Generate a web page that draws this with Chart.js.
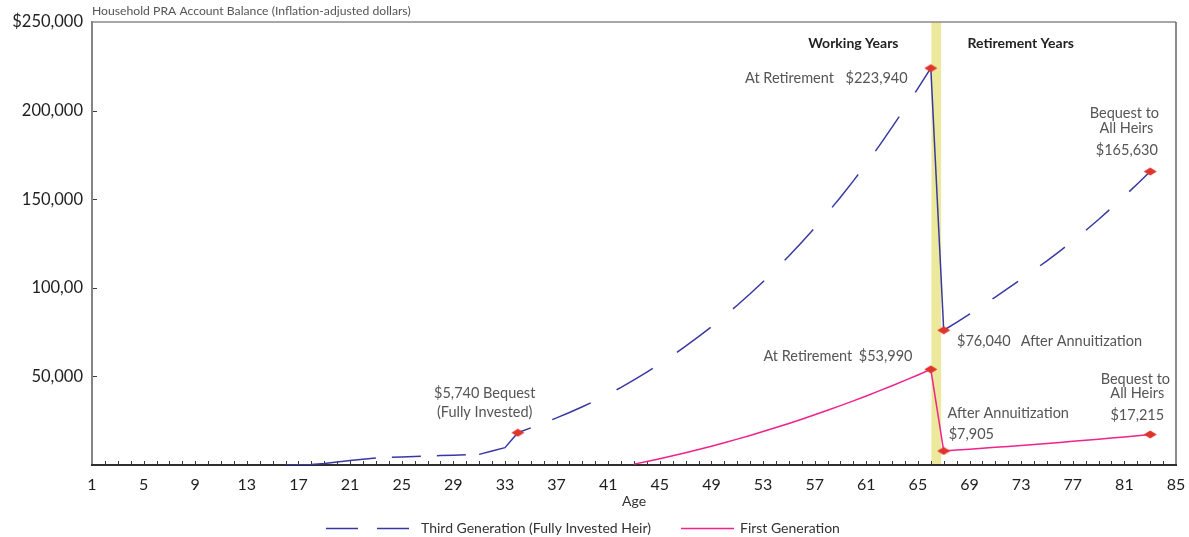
<!DOCTYPE html>
<html>
<head>
<meta charset="utf-8">
<title>Household PRA Account Balance</title>
<script src="https://cdn.jsdelivr.net/npm/chart.js@4.4.1/dist/chart.umd.min.js"></script>
<style>
  html, body { margin: 0; padding: 0; background: #ffffff; }
  #wrap { width: 1189px; height: 537px; }
</style>
</head>
<body>
<div id="wrap"><canvas id="chart" width="1189" height="537"></canvas></div>
<script>
// ---- data ----
const thirdGenAges = [16,17,18,19,20,21,22,23,24,25,26,27,28,29,30,31,32,33,34,
  35,36,37,38,39,40,41,42,43,44,45,46,47,48,49,50,51,52,53,54,55,56,57,58,59,60,61,62,63,64,65,66,
  67,68,69,70,71,72,73,74,75,76,77,78,79,80,81,82,83];
const thirdGenValues = [0,150,350,900,1700,2500,3200,3900,4300,4550,4800,5050,5300,5550,5800,6000,7900,9800,18200,
  20950,23750,26580,29640,32850,36260,39920,43830,48040,52450,57060,61920,67030,72390,78000,83910,90120,96630,
  103440,110550,117960,125720,133830,142290,151150,160360,170020,180080,190700,201500,212500,223940,
  76040,80550,85200,89950,94800,99750,104800,109950,115250,120750,126450,132350,138550,145050,151700,158550,165630];
const thirdGenMarkerAges = [34, 66, 67, 83];

const firstGenAges = [43,44,45,46,47,48,49,50,51,52,53,54,55,56,57,58,59,60,61,62,63,64,65,66,
  67,68,69,70,71,72,73,74,75,76,77,78,79,80,81,82,83];
const firstGenValues = [500,2000,3575,5225,6950,8750,10625,12575,14600,16700,18875,21125,23450,25850,28325,30875,
  33500,36200,38975,41825,44750,47750,50825,53990,
  7905,8400,8900,9400,9950,10500,11050,11600,12150,12750,13350,13950,14550,15200,15850,16500,17215];
const firstGenMarkerAges = [66, 67, 83];

const xTickValues = [1,5,9,13,17,21,25,29,33,37,41,45,49,53,57,61,65,69,73,77,81,85];
const yTickValues = [0, 50000, 100000, 150000, 200000, 250000];
const yTickLabels = ['', '50,000', '100,00', '150,000', '200,000', '$250,000'];

const retirementBand = [66.05, 66.8];   // ages bounding the retirement divider

// ---- labels placed at chart coordinates (age, balance) ----
const notes = [
  { text: 'Working Years',      age: 60.0,  value: 238100, bold: true },
  { text: 'Retirement Years',   age: 72.97, value: 238100, bold: true },
  { text: 'At Retirement',      age: 55.05, value: 218400 },
  { text: '$223,940',           age: 61.8,  value: 218400 },
  { text: 'Bequest to',         age: 81.0,  value: 198600 },
  { text: 'All Heirs',          age: 81.16, value: 190200 },
  { text: '$165,630',           age: 81.19, value: 177800 },
  { text: '$76,040',            age: 70.11, value: 70000 },
  { text: 'After Annuitization',age: 77.67, value: 70000 },
  { text: 'At Retirement',      age: 56.47, value: 61500 },
  { text: '$53,990',            age: 62.5,  value: 61500 },
  { text: '$5,740 Bequest',     age: 31.43, value: 40630 },
  { text: '(Fully Invested)',   age: 31.43, value: 29900 },
  { text: 'After Annuitization',age: 72.0,  value: 29350 },
  { text: '$7,905',             age: 69.14, value: 17500 },
  { text: 'Bequest to',         age: 81.85, value: 48530 },
  { text: 'All Heirs',          age: 82.0,  value: 40630 },
  { text: '$17,215',            age: 82.0,  value: 28200 }
];

const FONT = 'Lato, "Open Sans", "DejaVu Sans", sans-serif';
const BLUE = '#3838a2';
const PINK = '#f0228c';

// dash patterns for the heir's line: early savings, working years, retirement
const DASH_EARLY = [29, 16];
const DASH_WORK = [42, 29];
const DASH_RETIRED = [31, 27];

// flattened red diamond used for the milestone markers
function makeDiamond() {
  const c = document.createElement('canvas');
  c.width = 14; c.height = 9;
  const g = c.getContext('2d');
  g.fillStyle = '#e0352c';
  g.beginPath();
  g.moveTo(7, 0.5); g.lineTo(13.5, 4.5); g.lineTo(7, 8.5); g.lineTo(0.5, 4.5);
  g.closePath(); g.fill();
  return c;
}
const diamond = makeDiamond();

function toPoints(ages, values) {
  return ages.map((a, i) => ({ x: a, y: values[i] }));
}

// stretches of the heir's line that are drawn unbroken
function solidStretch(ctx) {
  const a = ctx.p0.parsed.x;
  return a < 23 || (a >= 31 && a < 35) || a === 66;
}
function segmentDash(ctx) {
  if (solidStretch(ctx)) return [];
  const a = ctx.p0.parsed.x;
  if (a < 31) return DASH_EARLY;
  if (a < 66) return DASH_WORK;
  return DASH_RETIRED;
}
function segmentDashOffset(ctx) {
  const a = ctx.p0.parsed.x;
  if (a < 31) return DASH_EARLY[0];
  if (a < 66) return DASH_WORK[0] + 6;
  return 0;
}

// background band and the plot frame with its small inner ticks
const framePlugin = {
  id: 'frame',
  beforeDatasetsDraw(chart) {
    const { ctx, chartArea: ca, scales: { x, y } } = chart;
    ctx.save();
    ctx.fillStyle = '#ece99c';
    const b0 = x.getPixelForValue(retirementBand[0]);
    const b1 = x.getPixelForValue(retirementBand[1]);
    ctx.fillRect(b0, ca.top, b1 - b0, ca.bottom - ca.top);

    // age ticks along the bottom edge
    ctx.strokeStyle = '#3a3a3a';
    ctx.lineWidth = 1;
    ctx.beginPath();
    for (let a = 2; a <= 84; a++) {
      const px = Math.round(x.getPixelForValue(a)) + 0.5;
      ctx.moveTo(px, ca.bottom);
      ctx.lineTo(px, ca.bottom - 4);
    }
    // balance ticks along the left edge
    yTickValues.slice(1, -1).forEach(v => {
      const py = Math.round(y.getPixelForValue(v)) + 0.5;
      ctx.moveTo(ca.left, py);
      ctx.lineTo(ca.left + 5, py);
    });
    ctx.stroke();

    // frame sides
    ctx.lineWidth = 1.5;
    ctx.strokeStyle = '#8a8a8a';
    ctx.beginPath();
    ctx.moveTo(ca.left, ca.top); ctx.lineTo(ca.right, ca.top);
    ctx.stroke();
    ctx.strokeStyle = '#666666';
    ctx.beginPath();
    ctx.moveTo(ca.right, ca.top); ctx.lineTo(ca.right, ca.bottom);
    ctx.stroke();
    ctx.lineWidth = 2;
    ctx.strokeStyle = '#858585';
    ctx.beginPath();
    ctx.moveTo(ca.left, ca.top - 1); ctx.lineTo(ca.left, ca.bottom);
    ctx.stroke();
    ctx.strokeStyle = '#2e2e2e';
    ctx.beginPath();
    ctx.moveTo(ca.left - 1, ca.bottom); ctx.lineTo(ca.right + 1, ca.bottom);
    ctx.stroke();
    ctx.restore();
  }
};

// axis caption, point labels and the legend
const textPlugin = {
  id: 'texts',
  afterDraw(chart) {
    const { ctx, chartArea: ca, scales: { x, y } } = chart;
    ctx.save();
    ctx.textBaseline = 'middle';

    ctx.fillStyle = '#555555';
    ctx.font = '12.2px ' + FONT;
    ctx.textAlign = 'left';
    ctx.fillText('Household PRA Account Balance (Inflation-adjusted dollars)', ca.left, 11);

    ctx.textAlign = 'center';
    notes.forEach(n => {
      ctx.font = (n.bold ? 'bold 14px ' : '14.5px ') + FONT;
      ctx.fillStyle = n.bold ? '#222222' : '#555555';
      ctx.fillText(n.text, x.getPixelForValue(n.age), y.getPixelForValue(n.value));
    });

    // legend
    const ly = 528.5;
    ctx.lineWidth = 1.5;
    ctx.strokeStyle = BLUE;
    ctx.setLineDash([32, 19]);
    ctx.beginPath(); ctx.moveTo(326, ly); ctx.lineTo(411, ly); ctx.stroke();
    ctx.setLineDash([]);
    ctx.strokeStyle = PINK;
    ctx.beginPath(); ctx.moveTo(681, ly); ctx.lineTo(734, ly); ctx.stroke();
    ctx.font = '14px ' + FONT;
    ctx.fillStyle = '#333333';
    ctx.textAlign = 'left';
    ctx.fillText('Third Generation (Fully Invested Heir)', 421, ly);
    ctx.fillText('First Generation', 740, ly);
    ctx.restore();
  }
};

new Chart(document.getElementById('chart'), {
  type: 'line',
  data: {
    datasets: [
      {
        label: 'Third Generation (Fully Invested Heir)',
        data: toPoints(thirdGenAges, thirdGenValues),
        borderColor: BLUE,
        borderWidth: 1.5,
        tension: 0,
        fill: false,
        segment: {
          borderDash: segmentDash,
          borderDashOffset: segmentDashOffset
        },
        pointStyle: diamond,
        pointRadius: ctx => (thirdGenMarkerAges.includes(ctx.raw && ctx.raw.x) ? 6 : 0),
        order: 2
      },
      {
        label: 'First Generation',
        data: toPoints(firstGenAges, firstGenValues),
        borderColor: PINK,
        borderWidth: 1.5,
        tension: 0,
        fill: false,
        pointStyle: diamond,
        pointRadius: ctx => (firstGenMarkerAges.includes(ctx.raw && ctx.raw.x) ? 6 : 0),
        order: 1
      }
    ]
  },
  options: {
    responsive: false,
    animation: false,
    events: [],
    layout: { padding: { left: 0, right: 13, top: 22, bottom: 22 } },
    plugins: {
      legend: { display: false },
      tooltip: { enabled: false },
      title: { display: false }
    },
    scales: {
      x: {
        type: 'linear',
        min: 1,
        max: 85,
        afterBuildTicks(s) { s.ticks = xTickValues.map(v => ({ value: v })); },
        afterFit(s) { s.height = 50; s.paddingLeft = 0; s.paddingRight = 0; },
        grid: { display: false, drawTicks: false },
        border: { display: false },
        ticks: {
          autoSkip: false,
          maxRotation: 0,
          padding: 10,
          color: '#1e1e1e',
          font: { family: FONT, size: 16 },
          callback: v => String(v)
        },
        title: {
          display: true,
          text: 'Age',
          color: '#333333',
          font: { family: FONT, size: 14 },
          padding: { top: 0, bottom: 5 }
        }
      },
      y: {
        type: 'linear',
        min: 0,
        max: 250000,
        afterBuildTicks(s) { s.ticks = yTickValues.map(v => ({ value: v })); },
        afterFit(s) { s.width = 92; s.paddingTop = 0; s.paddingBottom = 0; },
        grid: { display: false, drawTicks: false },
        border: { display: false },
        ticks: {
          padding: 9,
          color: '#1e1e1e',
          font: { family: FONT, size: 16.5 },
          callback: v => { const i = yTickValues.indexOf(v); return i >= 0 ? yTickLabels[i] : ''; }
        }
      }
    }
  },
  plugins: [framePlugin, textPlugin]
});
</script>
</body>
</html>
